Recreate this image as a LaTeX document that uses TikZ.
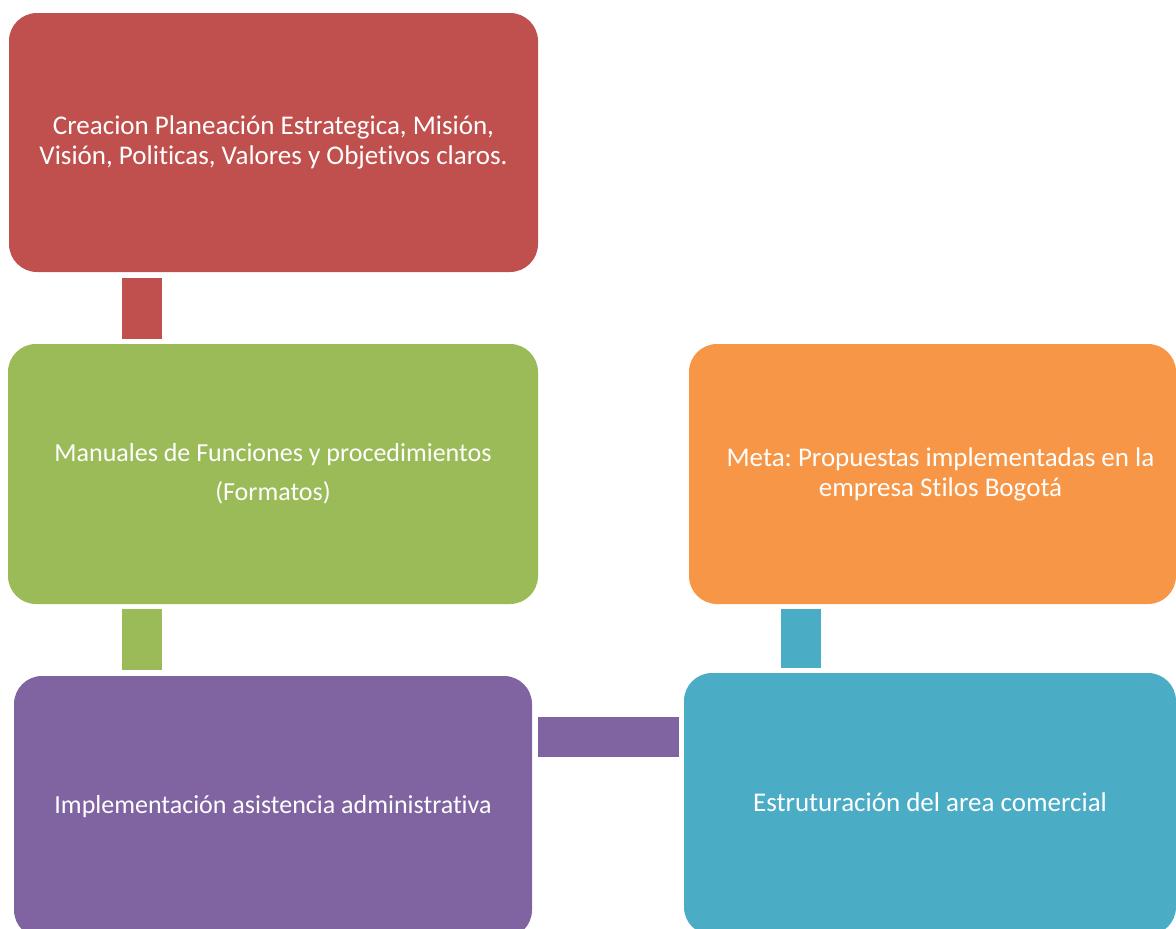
\documentclass[tikz,border=0pt]{standalone}
\usepackage{fontspec}
\setmainfont{Carlito}[Ligatures={NoCommon,NoContextual},Contextuals=NoAlternate]
\definecolor{cRed}{HTML}{C0504D}
\definecolor{cGreen}{HTML}{9BBB59}
\definecolor{cPurple}{HTML}{8064A2}
\definecolor{cOrange}{HTML}{F79646}
\definecolor{cTeal}{HTML}{4BACC6}
\tikzset{
  box/.style={rectangle, rounded corners=28pt, inner sep=0pt, text=white,
    align=center, font=\fontsize{27}{30}\selectfont\frenchspacing},
  boxs/.style={box, font=\fontsize{26}{30}\selectfont\frenchspacing},
  bar/.style={line width=40pt, line cap=butt},
}
\begin{document}
\begin{tikzpicture}[x=1pt,y=-1pt]
\useasboundingbox (0,0) rectangle (1176,929);
\clip (0,0) rectangle (1176,929);
\node[box, fill=cRed, minimum width=529pt, minimum height=259pt] (red) at (273.5,142.5)
  {Creacion Planeación Estrategica, Misión,\\Visión, Politicas, Valores y Objetivos claros.};
\node[boxs, fill=cGreen, minimum width=530pt, minimum height=260pt] (green) at (273,474)
  {Manuales de Funciones y procedimientos\\[9pt](Formatos)};
\node[boxs, fill=cPurple, minimum width=518pt, minimum height=262pt] (purple) at (273,807)
  {\raisebox{4pt}{Implementación asistencia administrativa}};
\node[box, fill=cOrange, minimum width=487pt, minimum height=260pt] (orange) at (932.5,474)
  {\hspace*{16pt}Meta: Propuestas implementadas en la\\\hspace*{16pt}empresa Stilos Bogotá};
\node[box, fill=cTeal, minimum width=492pt, minimum height=262pt] (teal) at (930,804)
  {\raisebox{3pt}{Estruturación del area comercial}};
\coordinate (lx) at (142,0);
\coordinate (tx) at (801,0);
\coordinate (py) at (0,736.5);
\draw[bar, cRed, shorten <=6pt, shorten >=5pt] (red.south -| lx) -- (green.north -| lx);
\draw[bar, cGreen, shorten <=5pt, shorten >=6pt] (green.south -| lx) -- (purple.north -| lx);
\draw[bar, cPurple, shorten <=6pt, shorten >=5pt] (purple.east |- py) -- (teal.west |- py);
\draw[bar, cTeal, shorten <=5pt, shorten >=5pt] (teal.north -| tx) -- (orange.south -| tx);
\end{tikzpicture}
\end{document}
